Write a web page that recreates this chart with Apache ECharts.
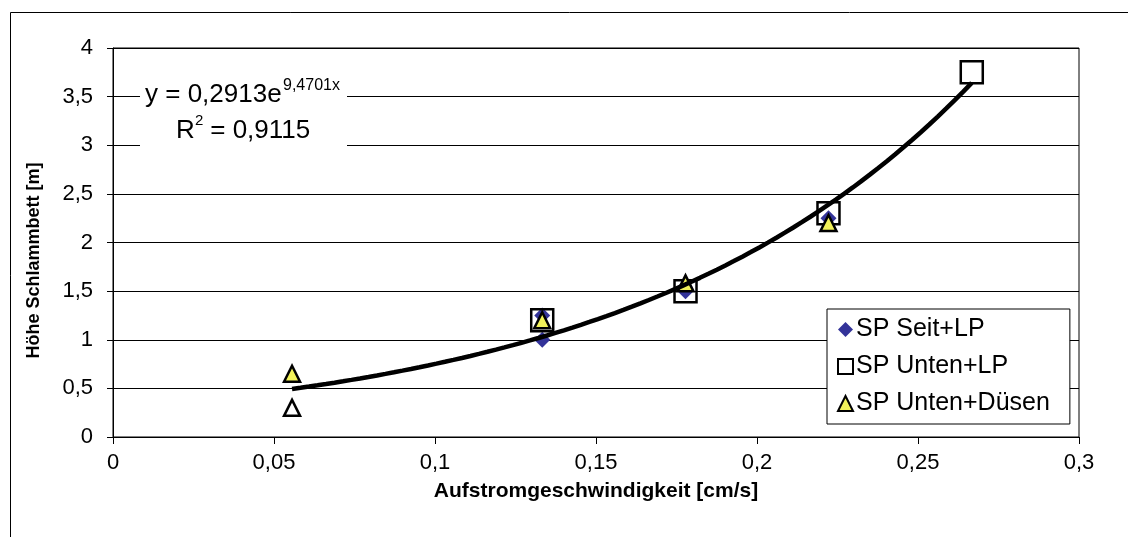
<!DOCTYPE html>
<html>
<head>
<meta charset="utf-8">
<script src="https://cdn.jsdelivr.net/npm/echarts@6/dist/echarts.min.js"></script>
<style>html,body{margin:0;padding:0;background:#fff}#c{width:1128px;height:537px}</style>
</head>
<body>
<div id="c"></div>
<script>
// Data: [Aufstromgeschwindigkeit, Höhe]
const seitLP = [[0.1333, 1.0], [0.1333, 1.25], [0.1778, 1.5], [0.2222, 2.25]];
const untenLP = [[0.1333, 1.2], [0.1778, 1.5], [0.2222, 2.3], [0.2667, 3.75]];
const untenDuesen = [[0.0556, 0.65], [0.1333, 1.2], [0.1778, 1.58], [0.2222, 2.2]];
const untenDuesenHollow = [[0.0556, 0.3]];
const seriesNames = ['SP Seit+LP', 'SP Unten+LP', 'SP Unten+Düsen'];
// Exponential trendline as printed on the chart
const trendA = 0.2913, trendB = 9.4701, trendR2 = '0,9115';
const trendRange = [0.0556, 0.2667];
const xTicks = { min: 0, max: 0.3, interval: 0.05 };
const yTicks = { min: 0, max: 4, interval: 0.5 };

const trendData = [];
for (let i = 0; i <= 80; i++) {
  const x = trendRange[0] + (trendRange[1] - trendRange[0]) * i / 80;
  trendData.push([x, trendA * Math.exp(trendB * x)]);
}
const comma = v => String(+v.toFixed(3)).replace('.', ',');
const FONT = '"Liberation Sans", Arial, sans-serif';
const txt = (t, x, y, size) => ({ type: 'text', x: x, y: y, z: 51, silent: true,
  style: { text: t, fontFamily: FONT, fontSize: size, fill: '#000', align: 'left', verticalAlign: 'middle' } });
const chart = echarts.init(document.getElementById('c'), null, { renderer: 'canvas' });
chart.setOption({
  animation: false,
  backgroundColor: '#fff',
  grid: { left: 113, right: 49, top: 48, bottom: 100, show: true, borderColor: '#000', borderWidth: 1, backgroundColor: 'transparent' },
  xAxis: {
    type: 'value', min: xTicks.min, max: xTicks.max, interval: xTicks.interval,
    name: 'Aufstromgeschwindigkeit [cm/s]', nameLocation: 'middle', nameGap: 44,
    nameTextStyle: { fontFamily: FONT, fontWeight: 'bold', fontSize: 21, color: '#000' },
    axisLine: { show: true, onZero: false, lineStyle: { color: '#000', width: 1 } },
    axisTick: { show: true, inside: false, length: 7, lineStyle: { color: '#000' } },
    axisLabel: { formatter: comma, fontFamily: FONT, fontSize: 22, color: '#000', margin: 15 },
    splitLine: { show: false }
  },
  yAxis: {
    type: 'value', min: yTicks.min, max: yTicks.max, interval: yTicks.interval,
    name: 'Höhe Schlammbett [m]', nameLocation: 'middle', nameGap: 70, nameRotate: 90,
    nameTextStyle: { fontFamily: FONT, fontWeight: 'bold', fontSize: 18, color: '#000', padding: [0, 36, 0, 0] },
    axisLine: { show: true, lineStyle: { color: '#000', width: 1 } },
    axisTick: { show: true, inside: false, length: 6, lineStyle: { color: '#000' } },
    axisLabel: { formatter: comma, fontFamily: FONT, fontSize: 22, color: '#000', margin: 20 },
    splitLine: { show: true, lineStyle: { color: '#000', width: 1 } }
  },
  legend: {
    orient: 'vertical', left: 827, top: 309,
    backgroundColor: '#fff', borderColor: '#000', borderWidth: 1,
    padding: [8, 20, 8, 10], itemGap: 12, itemWidth: 15, itemHeight: 15,
    textStyle: { fontFamily: FONT, fontSize: 25, color: '#000', padding: [0, 0, 0, -2] },
    data: [
      { name: seriesNames[0], icon: 'diamond', itemStyle: { color: '#333399', borderWidth: 0 } },
      { name: seriesNames[1], icon: 'rect', itemStyle: { color: '#fff', borderColor: '#000', borderWidth: 2 } },
      { name: seriesNames[2], icon: 'triangle', itemStyle: { color: '#f2f25a', borderColor: '#000', borderWidth: 2 } }
    ]
  },
  series: [
    { name: seriesNames[0], type: 'scatter', data: seitLP, symbol: 'diamond', symbolSize: 16, z: 2,
      itemStyle: { color: '#333399', opacity: 1 } },
    { name: seriesNames[1], type: 'scatter', data: untenLP, symbol: 'rect', symbolSize: 22, z: 3,
      itemStyle: { color: 'rgba(255,255,255,0)', borderColor: '#000', borderWidth: 2.5, opacity: 1 } },
    { name: seriesNames[2], type: 'scatter', data: untenDuesen, symbol: 'triangle', symbolSize: 16, z: 4,
      itemStyle: { color: '#f2f25a', borderColor: '#000', borderWidth: 2.5, opacity: 1 } },
    { name: seriesNames[2] + ' ', type: 'scatter', data: untenDuesenHollow, symbol: 'triangle', symbolSize: 16, z: 4,
      itemStyle: { color: '#fff', borderColor: '#000', borderWidth: 2.5, opacity: 1 } },
    { name: 'Trend', type: 'line', data: trendData, showSymbol: false, smooth: false, silent: true, z: 5,
      lineStyle: { color: '#000', width: 4.5 } }
  ],
  graphic: [
    { type: 'rect', left: 8, top: 10, z: -10, silent: true,
      shape: { width: 1130, height: 540 }, style: { fill: 'none', stroke: '#000', lineWidth: 1 } },
    { type: 'rect', x: 140, y: 60, z: 50, silent: true,
      shape: { width: 207, height: 92 }, style: { fill: '#fff', stroke: 'none' } },
    txt('y = ' + String(trendA).replace('.', ',') + 'e', 145, 95, 26),
    txt(String(trendB).replace('.', ',') + 'x', 283, 86, 16),
    txt('R', 176, 131, 26),
    txt('2', 195, 121, 15),
    txt(' = ' + trendR2, 203, 131, 26)
  ]
});
</script>
</body>
</html>
